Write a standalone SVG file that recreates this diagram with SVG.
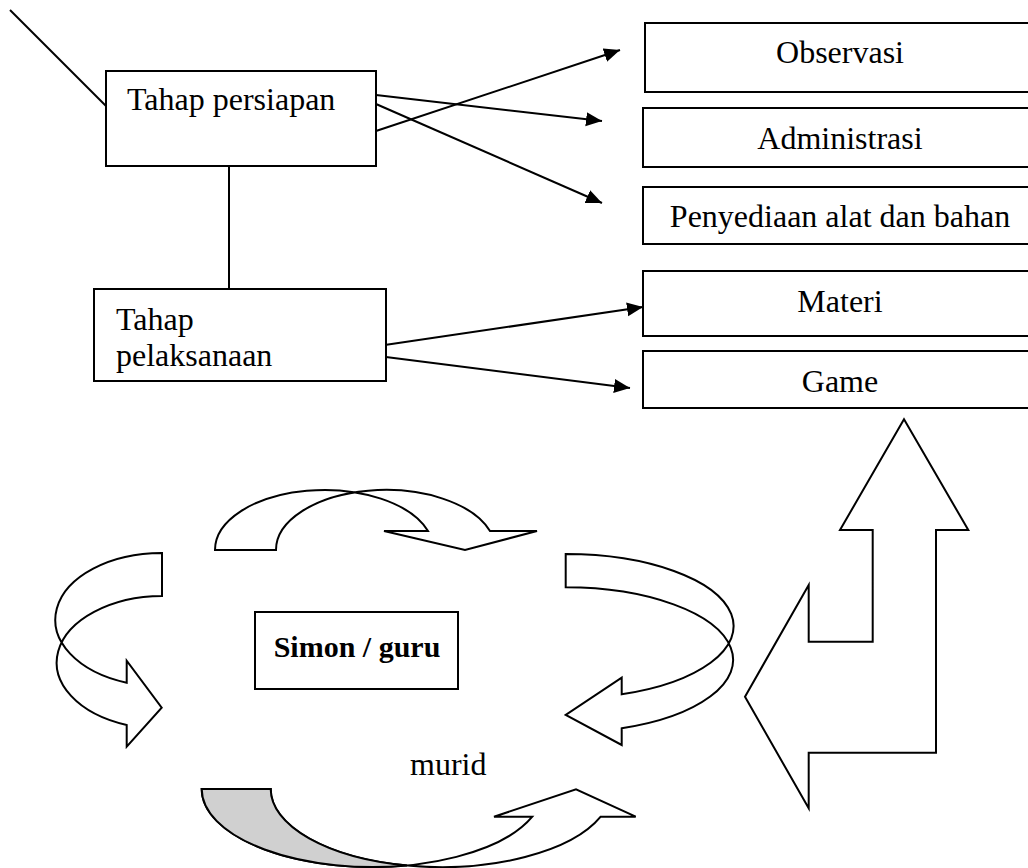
<svg xmlns="http://www.w3.org/2000/svg" width="1028" height="868" viewBox="0 0 1028 868">
<style>
.box{fill:#fff;stroke:#000;stroke-width:2}
.t{font-family:"Liberation Serif","Times New Roman",serif;font-size:32px;fill:#000}
.c{text-anchor:middle}
.ln{stroke:#000;stroke-width:2;fill:none}
.shape{fill:#fff;stroke:#000;stroke-width:2;stroke-linejoin:miter}
</style>
<defs>
<marker id="ah" markerUnits="userSpaceOnUse" markerWidth="17" markerHeight="15" refX="16" refY="7" orient="auto">
<path d="M0,0 L16,7 L0,14 Z" fill="#000"/>
</marker>
</defs>
<rect width="1028" height="868" fill="#fff"/>

<g id="connectors">
<line class="ln" x1="10" y1="10" x2="106" y2="106"/>
<line class="ln" x1="229" y1="156" x2="229" y2="289"/>
<line class="ln" x1="376" y1="95" x2="602" y2="121" marker-end="url(#ah)"/>
<line class="ln" x1="376" y1="104" x2="602" y2="203" marker-end="url(#ah)"/>
<line class="ln" x1="376" y1="131" x2="620" y2="50" marker-end="url(#ah)"/>
<line class="ln" x1="378" y1="346" x2="643" y2="307" marker-end="url(#ah)"/>
<line class="ln" x1="378" y1="356" x2="630" y2="388" marker-end="url(#ah)"/>
</g>

<g id="node-persiapan">
<rect class="box" x="106" y="71" width="270" height="95"/>
<text class="t" x="127" y="110">Tahap persiapan</text>
</g>
<g id="node-pelaksanaan">
<rect class="box" x="94" y="289" width="292" height="92"/>
<text class="t" x="116" y="330">Tahap</text>
<text class="t" x="116" y="366">pelaksanaan</text>
</g>
<g id="node-observasi">
<rect class="box" x="645" y="23" width="394" height="69"/>
<text class="t c" x="840" y="63">Observasi</text>
</g>
<g id="node-administrasi">
<rect class="box" x="643" y="108" width="396" height="59"/>
<text class="t c" x="840" y="149">Administrasi</text>
</g>
<g id="node-penyediaan">
<rect class="box" x="643" y="187" width="396" height="57"/>
<text class="t c" x="840" y="227">Penyediaan alat dan bahan</text>
</g>
<g id="node-materi">
<rect class="box" x="643" y="271" width="396" height="65"/>
<text class="t c" x="840" y="312">Materi</text>
</g>
<g id="node-game">
<rect class="box" x="643" y="351" width="396" height="57"/>
<text class="t c" x="840" y="392">Game</text>
</g>

<g id="node-simon">
<rect class="box" x="255" y="612" width="203" height="77"/>
<text class="t c" x="357" y="657" font-weight="bold" style="font-size:30px">Simon / guru</text>
</g>
<g id="node-murid">
<text class="t" x="410" y="775">murid</text>
</g>

<g id="arrow-top">
<path class="shape" d="M215,550 A109.3,60 0 0,1 428,531 L384,531 L465,550 L537,531 L490,531 A109.8,60 0 0,0 276,550 Z"/>
</g>
<g id="arrow-left">
<path class="shape" d="M162,553 A106.3,66.7 0 0,0 126.7,682.7 L126.7,660.7 L161.7,707.7 L126.7,746.7 L126.7,725 A106.3,66.5 0 0,1 162,596 Z"/>
</g>
<g id="arrow-right">
<path class="shape" d="M565.7,554 A167.6,72.2 0 0,1 621.7,694.3 L621.7,677.7 L565.7,715 L621.7,745 L621.7,728.3 A167.6,72.6 0 0,0 565.7,587.3 Z"/>
</g>
<g id="arrow-bottom">
<path class="shape" d="M201.7,789 A170.9,78 0 0,0 532.3,816.7 L494,816.7 L576,789.3 L635.7,816.7 L600.7,816.7 A170.5,78 0 0,1 270.7,789 Z"/>
<path d="M201.7,789 L270.7,789 A170.5,78 0 0,0 407,865.4 A170.9,78 0 0,1 201.7,789 Z" fill="#d0d0d0" stroke="#000" stroke-width="2"/>
</g>
<g id="arrow-bent">
<path class="shape" d="M904,419.3 L968.3,530 L936,530 L936,752.7 L808.7,752.7 L808.7,808.3 L745,696.7 L808.7,585 L808.7,641.7 L872.7,641.7 L872.7,530 L840,530 Z"/>
</g>
</svg>
